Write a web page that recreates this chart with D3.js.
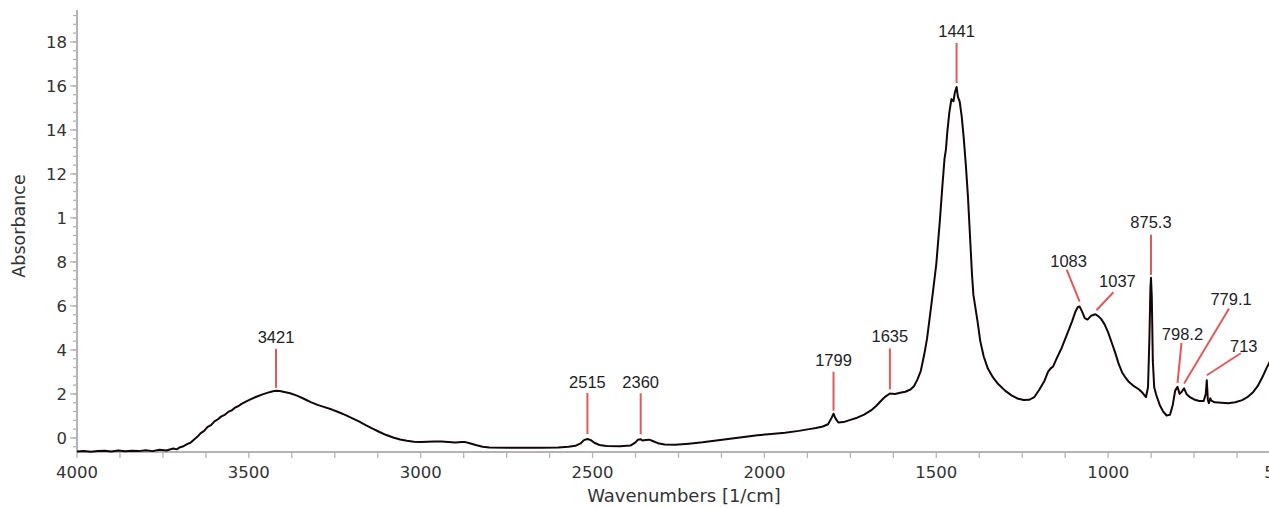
<!DOCTYPE html>
<html>
<head>
<meta charset="utf-8">
<script src="https://cdn.jsdelivr.net/npm/d3@7"></script>
<style>
  html, body { margin: 0; padding: 0; background: #fff; overflow: hidden; }
  svg { display: block; }
</style>
</head>
<body>
<svg id="chart" width="1269" height="508"></svg>
<script>
// IR spectrum: wavenumber (1/cm) and absorbance
const wavenumbers = [
  4000, 3980, 3960, 3940, 3920, 3900, 3880, 3860, 3840, 3820, 3800, 3780, 3760, 3740, 3720, 3710,
  3700, 3690, 3680, 3670, 3660, 3650, 3640, 3630, 3620, 3610, 3600, 3590, 3580, 3570, 3560, 3550,
  3540, 3530, 3520, 3510, 3500, 3480, 3460, 3440, 3430, 3421, 3410, 3400, 3380, 3360, 3340, 3320,
  3300, 3280, 3260, 3240, 3220, 3200, 3180, 3160, 3140, 3120, 3100, 3080, 3060, 3040, 3020, 3000,
  2980, 2960, 2940, 2920, 2900, 2880, 2870, 2860, 2840, 2820, 2800, 2750, 2700, 2650, 2600, 2570,
  2550, 2535, 2525, 2515, 2505, 2495, 2480, 2460, 2420, 2390, 2375, 2368, 2360, 2355, 2345, 2335,
  2325, 2310, 2290, 2260, 2220, 2180, 2140, 2100, 2060, 2020, 1980, 1940, 1900, 1870, 1850, 1830,
  1815, 1805, 1799, 1793, 1785, 1770, 1750, 1730, 1710, 1690, 1675, 1660, 1648, 1635, 1620, 1605,
  1590, 1575, 1565, 1555, 1545, 1535, 1527, 1518, 1510, 1500, 1490, 1482, 1476, 1472, 1468, 1462,
  1456, 1450, 1446, 1441, 1437, 1432, 1426, 1420, 1414, 1408, 1402, 1396, 1392, 1386, 1380, 1372,
  1362, 1350, 1335, 1320, 1300, 1280, 1262, 1245, 1230, 1215, 1200, 1185, 1175, 1168, 1160, 1150,
  1135, 1120, 1105, 1095, 1088, 1083, 1076, 1068, 1060, 1050, 1037, 1030, 1020, 1010, 1000, 990,
  980, 970, 960, 950, 940, 925, 910, 900, 890, 884, 880, 877, 875.3, 873, 870, 866,
  860, 850, 840, 830, 820, 812, 805, 798.2, 792, 786, 779.1, 772, 762, 750, 735, 722,
  716, 713, 710, 707, 703, 700, 690, 670, 650, 630, 610, 595, 580, 565, 550, 540,
  530, 515, 500
];
const absorbance = [
  -0.62, -0.60, -0.63, -0.60, -0.58, -0.62, -0.57, -0.61, -0.58, -0.60, -0.56, -0.60, -0.54, -0.57, -0.48, -0.52,
  -0.42, -0.38, -0.28, -0.22, -0.08, 0.05, 0.22, 0.32, 0.50, 0.58, 0.75, 0.85, 0.98, 1.05, 1.18, 1.25,
  1.38, 1.45, 1.56, 1.64, 1.72, 1.86, 1.98, 2.08, 2.12, 2.14, 2.13, 2.10, 2.03, 1.92, 1.78, 1.63,
  1.50, 1.40, 1.30, 1.18, 1.05, 0.90, 0.75, 0.58, 0.42, 0.27, 0.13, 0.02, -0.07, -0.13, -0.17, -0.19,
  -0.17, -0.16, -0.16, -0.18, -0.21, -0.19, -0.19, -0.23, -0.32, -0.40, -0.44, -0.45, -0.45, -0.45, -0.43, -0.40,
  -0.36, -0.25, -0.10, -0.05, -0.10, -0.22, -0.32, -0.37, -0.38, -0.35, -0.20, -0.08, -0.06, -0.12, -0.09, -0.08,
  -0.14, -0.24, -0.30, -0.31, -0.26, -0.20, -0.12, -0.04, 0.04, 0.12, 0.18, 0.24, 0.32, 0.40, 0.45, 0.52,
  0.62, 0.90, 1.10, 0.88, 0.70, 0.72, 0.82, 0.92, 1.06, 1.25, 1.45, 1.70, 1.88, 2.02, 2.00, 2.05,
  2.10, 2.20, 2.35, 2.65, 3.05, 3.80, 4.50, 5.60, 6.60, 7.90, 9.80, 11.5, 12.7, 13.1, 13.9, 14.8,
  15.4, 15.3, 15.7, 15.95, 15.5, 15.3, 14.6, 13.6, 12.4, 11.0, 9.2, 7.4, 6.5, 5.9, 5.3, 4.4,
  3.7, 3.15, 2.75, 2.45, 2.15, 1.92, 1.78, 1.72, 1.73, 1.85, 2.20, 2.60, 3.00, 3.15, 3.25, 3.60,
  4.10, 4.70, 5.30, 5.75, 5.95, 5.97, 5.75, 5.45, 5.38, 5.55, 5.62, 5.55, 5.40, 5.15, 4.80, 4.35,
  3.90, 3.40, 3.00, 2.75, 2.55, 2.35, 2.20, 2.05, 1.85, 2.30, 4.50, 6.80, 7.28, 6.40, 3.50, 2.30,
  1.95, 1.50, 1.20, 1.02, 1.05, 1.50, 2.15, 2.32, 2.00, 2.10, 2.25, 2.00, 1.85, 1.75, 1.68, 1.68,
  2.00, 2.62, 1.75, 1.58, 1.80, 1.70, 1.62, 1.60, 1.58, 1.62, 1.72, 1.85, 2.05, 2.35, 2.80, 3.15,
  3.45, 3.80, 4.20
];

// Labelled peaks
const peakPositions = [3421, 2515, 2360, 1799, 1635, 1441, 1083, 1037, 875.3, 798.2, 779.1, 713];
const peakLabels = ["3421", "2515", "2360", "1799", "1635", "1441", "1083", "1037", "875.3", "798.2", "779.1", "713"];

// Axis ticks
const xTickValues = [4000, 3500, 3000, 2500, 2000, 1500, 1000, 500];
const xTickLabels = ["4000", "3500", "3000", "2500", "2000", "1500", "1000", "500"];
const yTickValues = [0, 2, 4, 6, 8, 10, 12, 14, 16, 18];
const yTickLabels = ["0", "2", "4", "6", "8", "1", "12", "14", "16", "18"];

const xTitle = "Wavenumbers [1/cm]";
const yTitle = "Absorbance";

// ---- layout ----
const plot = { left: 77, right: 1280, top: 10, bottom: 452 };
const axisColor = "#b4b4b4";
const textColor = "#333";
const calloutColor = "#e05a5a";

const svg = d3.select("#chart");

const x = d3.scaleLinear().domain([4000, 500]).range([plot.left, plot.right]);
const y = d3.scaleLinear().domain([-0.64, 19.45]).range([plot.bottom, plot.top]);

// minor ticks
const xMinor = d3.range(4000, 499, -125);
const yMinor = d3.range(-0.4, 19.45, 0.4).map(v => +v.toFixed(2));

// X axis
const xAxis = svg.append("g").attr("transform", `translate(0,${plot.bottom})`);
xAxis.append("line")
  .attr("x1", plot.left).attr("x2", plot.right)
  .attr("stroke", axisColor).attr("stroke-width", 2);
xAxis.selectAll("line.tick").data(xMinor).join("line")
  .attr("class", "tick")
  .attr("x1", d => x(d)).attr("x2", d => x(d))
  .attr("y1", 0).attr("y2", 6)
  .attr("stroke", axisColor).attr("stroke-width", 1.3);
xAxis.selectAll("text").data(xTickValues).join("text")
  .attr("x", d => x(d)).attr("y", 26)
  .attr("text-anchor", "middle")
  .attr("font-family", "DejaVu Sans, Verdana, sans-serif")
  .attr("font-size", 16.5)
  .attr("fill", textColor)
  .text((d, i) => xTickLabels[i]);

// Y axis
const yAxis = svg.append("g").attr("transform", `translate(${plot.left},0)`);
yAxis.append("line")
  .attr("y1", plot.top).attr("y2", plot.bottom)
  .attr("stroke", axisColor).attr("stroke-width", 2);
yAxis.selectAll("line.minor").data(yMinor).join("line")
  .attr("class", "minor")
  .attr("x1", -4).attr("x2", 0)
  .attr("y1", d => y(d)).attr("y2", d => y(d))
  .attr("stroke", axisColor).attr("stroke-width", 1.3);
yAxis.selectAll("line.major").data(yTickValues).join("line")
  .attr("class", "major")
  .attr("x1", -7).attr("x2", 0)
  .attr("y1", d => y(d)).attr("y2", d => y(d))
  .attr("stroke", axisColor).attr("stroke-width", 1.3);
yAxis.selectAll("text").data(yTickValues).join("text")
  .attr("x", -10).attr("y", d => y(d))
  .attr("dy", "0.36em")
  .attr("text-anchor", "end")
  .attr("font-family", "DejaVu Sans, Verdana, sans-serif")
  .attr("font-size", 16.5)
  .attr("fill", textColor)
  .text((d, i) => yTickLabels[i]);

// Axis titles
svg.append("text")
  .attr("x", 684).attr("y", 502)
  .attr("text-anchor", "middle")
  .attr("font-family", "DejaVu Sans, Verdana, sans-serif")
  .attr("font-size", 18)
  .attr("fill", textColor)
  .text(xTitle);
svg.append("text")
  .attr("transform", "translate(25,226) rotate(-90)")
  .attr("text-anchor", "middle")
  .attr("font-family", "DejaVu Sans, Verdana, sans-serif")
  .attr("font-size", 17.5)
  .attr("fill", textColor)
  .text(yTitle);

// Spectrum trace
const points = wavenumbers.map((w, i) => [w, absorbance[i]]);
const line = d3.line().x(d => x(d[0])).y(d => y(d[1]));
svg.append("path")
  .datum(points)
  .attr("d", line)
  .attr("fill", "none")
  .attr("stroke", "#140606")
  .attr("stroke-width", 2)
  .attr("stroke-linejoin", "round");

// Callouts: pixel offsets from the peak point for text anchor, leader top and leader bottom
const calloutLayout = {
  "3421":  { text: [0, -48],  top: [0, -42],  bottom: [0, -3] },
  "2515":  { text: [0, -51],  top: [0, -46],  bottom: [0, -5] },
  "2360":  { text: [0, -51],  top: [0, -46],  bottom: [0, -5] },
  "1799":  { text: [0, -48],  top: [0, -42],  bottom: [0, -3] },
  "1635":  { text: [0, -51],  top: [0, -45],  bottom: [0, -4] },
  "1441":  { text: [0, -50],  top: [0, -44],  bottom: [0, -4] },
  "1083":  { text: [-11, -40], top: [-13, -37], bottom: [0, -5] },
  "1037":  { text: [22, -27], top: [18, -22], bottom: [1, -4] },
  "875.3": { text: [0, -50],  top: [0, -43],  bottom: [0, -3] },
  "798.2": { text: [5, -47],  top: [4, -44],  bottom: [0, -4] },
  "779.1": { text: [47, -83], top: [45, -80], bottom: [0, -5] },
  "713":   { text: [37, -28], top: [34, -27], bottom: [0, -5] }
};

const callouts = peakPositions.map((w, i) => {
  const idx = wavenumbers.indexOf(w);
  return { wn: w, abs: absorbance[idx], label: peakLabels[i] };
});

const cg = svg.append("g");
callouts.forEach(c => {
  const px = x(c.wn), py = y(c.abs);
  const L = calloutLayout[c.label];
  cg.append("line")
    .attr("x1", px + L.top[0]).attr("y1", py + L.top[1])
    .attr("x2", px + L.bottom[0]).attr("y2", py + L.bottom[1])
    .attr("stroke", calloutColor).attr("stroke-width", 2);
  cg.append("text")
    .attr("x", px + L.text[0]).attr("y", py + L.text[1])
    .attr("text-anchor", "middle")
    .attr("font-family", "Liberation Sans, Arial, sans-serif")
    .attr("font-size", 16.5)
    .attr("fill", "#222")
    .text(c.label);
});
</script>
</body>
</html>
